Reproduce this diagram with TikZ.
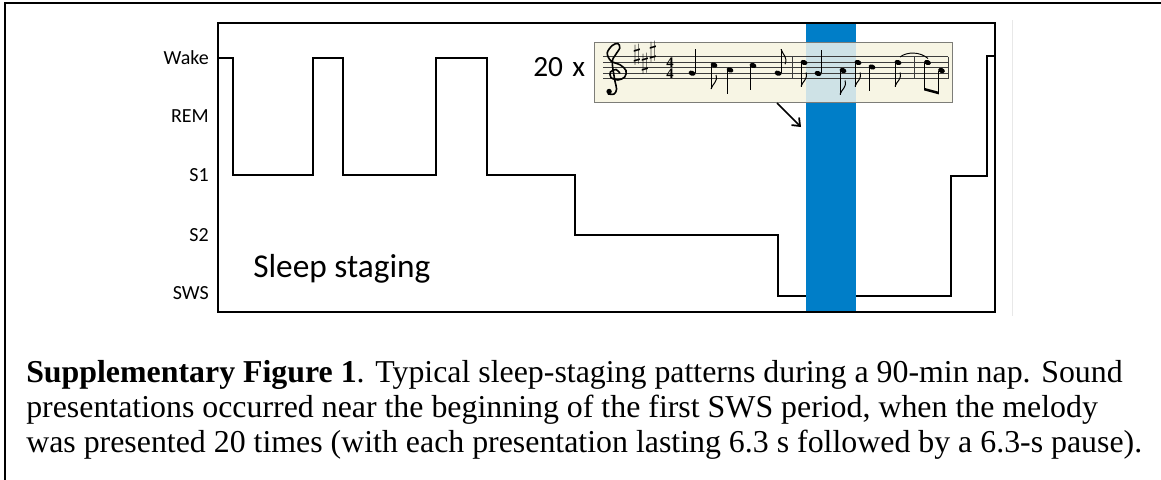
\documentclass[tikz,border=0pt]{standalone}
\usepackage{fontspec}
\setmainfont{Liberation Serif}
\newfontfamily\calib{Carlito}
\usetikzlibrary{arrows.meta}

\definecolor{bandblue}{RGB}{0,126,200}
\definecolor{scorebg}{RGB}{247,245,228}
\definecolor{scoretint}{RGB}{206,226,230}
\definecolor{scoreedge}{RGB}{125,125,120}
\definecolor{staffgray}{RGB}{60,60,60}
\definecolor{guidegray}{RGB}{232,232,232}

% note glyphs: #1 = x, #2 = y of the head centre
\newcommand{\nhead}[2]{\fill (#1,#2) ellipse[x radius=3.5, y radius=2.5, rotate=-20];}
\newcommand{\quarterup}[2]{\nhead{#1}{#2}\draw[stemline] (#1+3,#2-0.5) -- (#1+3,#2-24);}
\newcommand{\quarterdown}[2]{\nhead{#1}{#2}\draw[stemline] (#1-3,#2+0.5) -- (#1-3,#2+24);}
\newcommand{\eighthup}[2]{\quarterup{#1}{#2}\draw[stemline] (#1+3,#2-24) .. controls (#1+5,#2-18) and (#1+10,#2-16) .. (#1+7,#2-9);}
\newcommand{\eighthdown}[2]{\quarterdown{#1}{#2}\draw[stemline] (#1-3,#2+24) .. controls (#1-1,#2+18) and (#1+4,#2+17) .. (#1+2,#2+10);}

\begin{document}
\begin{tikzpicture}[x=0.75pt,y=-0.75pt,
  framebox/.style={line width=1.4pt},
  trace/.style={line width=1.3pt, line join=miter},
  levellabel/.style={font=\calib\fontsize{15}{15}\selectfont, anchor=east, inner sep=0pt},
  captionline/.style={font=\fontsize{23.9}{26}\selectfont, anchor=base west, inner sep=0pt},
  stemline/.style={line width=0.75pt},
  staffline/.style={staffgray, line width=0.5pt},
  sharpsign/.style={font=\fontsize{19}{19}\selectfont, inner sep=0pt},
  timesig/.style={font=\bfseries\fontsize{11}{8.3}\selectfont, inner sep=0pt, align=center},
  pointer/.style={line width=1.3pt, -{Straight Barb[length=5pt, width=8pt]}}]
\useasboundingbox (0,0) rectangle (1161,479);

% outer frame (only its top and left edges fall inside the page)
\draw[line width=1.2pt] (5,490) -- (5,3) -- (1175,3);

% faint guide line to the right of the plot
\draw[guidegray, line width=0.7pt] (1012,20) -- (1012,316);

% stage labels
\node[levellabel] (lwake) at (209,58) {Wake};
\node[levellabel] (lrem)  at (209,116) {REM};
\node[levellabel] (ls1)   at (209,175) {S1};
\node[levellabel] (ls2)   at (209,235) {S2};
\node[levellabel] (lsws)  at (209,293) {SWS};

% hypnogram
\draw[trace] (218,58) -- (233,58) -- (233,175) -- (313,175) -- (313,58) -- (343,58)
  -- (343,175) -- (436,175) -- (436,58) -- (487,58) -- (487,175) -- (575,175)
  -- (575,235) -- (778,235) -- (778,296) -- (951,296) -- (951,176) -- (987,176)
  -- (987,56) -- (995,56);

% stimulation period
\fill[bandblue] (806,23) rectangle (856,311);

% plot frame
\draw[framebox] (218,23) rectangle (995,312);

\node[font=\calib\fontsize{25}{25}\selectfont, anchor=base west, inner sep=0pt] (staging) at (253,277) {Sleep staging};

% melody
\node[font=\calib\fontsize{22}{22}\selectfont, anchor=base west, inner sep=0pt] (times) at (533,76) {20\hspace{7pt}x};
\node[draw=scoreedge, fill=scorebg, line width=0.8pt, minimum width=358*0.75pt, minimum height=60*0.75pt,
  inner sep=0pt, anchor=north west] (score) at (594,42) {};
\fill[scoretint] (806,42.5) rectangle (856,101.5);

\foreach \k in {0,...,4}
  \draw[staffline] (603,56.7+5.5*\k) -- (948,56.7+5.5*\k);
\foreach \bx in {792,914,948}
  \draw[staffline, line width=0.7pt] (\bx,56.7) -- (\bx,78.7);

% treble clef
\draw[line width=1.2pt, line cap=round] plot[smooth, tension=0.55] coordinates {
  (619.75,73) (616,69.5) (610.4,72) (611,77.5) (617.9,80) (624.75,77) (626,70.5) (620.4,65)
  (611,61) (607.25,53) (612.25,45.5) (617.9,43.5) (619.75,48) (615.4,55) (612.25,62) (614.75,80)
  (616.6,89) (614.1,94) (608.25,94)};
\fill (609.1,91.5) circle[radius=2.7];

% key signature and time signature
\node[sharpsign] (sharpf) at (637,55) {$\sharp$};
\node[sharpsign] (sharpc) at (645,64) {$\sharp$};
\node[sharpsign] (sharpg) at (653,51.7) {$\sharp$};
\node[timesig] (tsig) at (670,67.8) {4\\4};

% first bar
\quarterup{692}{73.2}
\eighthdown{714}{65}
\quarterdown{730}{70}
\quarterdown{753}{65.5}
\eighthup{778}{73.2}
% second bar
\eighthdown{804}{62.5}
\quarterup{818}{73.5}
\eighthdown{843}{70.5}
\eighthdown{858}{62.5}
\quarterdown{872}{67}
\eighthdown{898}{62.5}
\draw[line width=0.7pt] (900,57) .. controls (907,51.5) and (920,51.5) .. (928,58.5);
% last bar: two beamed quavers
\nhead{927.5}{62.5}
\nhead{941.5}{70.5}
\draw[stemline] (924.5,63) -- (924.5,89);
\draw[stemline] (938.5,71) -- (938.5,93);
\fill (924.1,87.8) -- (938.9,91.8) -- (938.9,94.4) -- (924.1,90.4) -- cycle;

% pointer from the melody to the stimulation period
\coordinate (ptail) at (777,103);
\coordinate (phead) at (801,127);
\draw[pointer] (ptail) -- (phead);

% caption
\node[captionline] (cap1) at (26,382) {\textbf{Supplementary Figure 1}. Typical sleep-staging patterns during a 90-min nap. Sound};
\node[captionline] (cap2) at (26,417) {presentations occurred near the beginning of the first SWS period, when the melody};
\node[captionline] (cap3) at (26,452) {was presented 20 times (with each presentation lasting 6.3 s followed by a 6.3-s pause).};
\end{tikzpicture}
\end{document}
